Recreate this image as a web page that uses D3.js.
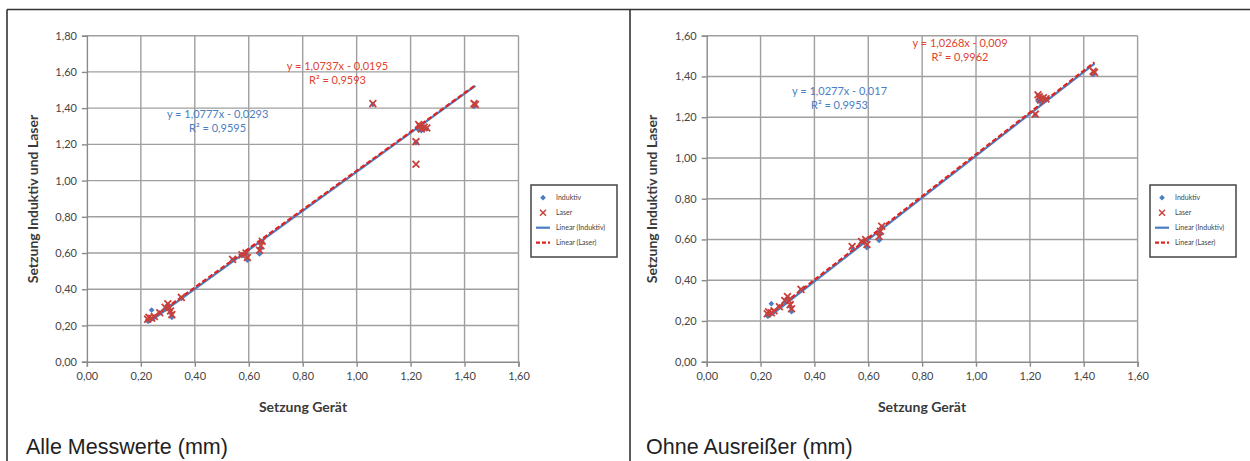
<!DOCTYPE html>
<html>
<head>
<meta charset="utf-8">
<script src="https://cdn.jsdelivr.net/npm/d3@7"></script>
<style>
  html, body { margin: 0; padding: 0; background: #fff; }
  svg { display: block; }
  .tick text { font-family: Lato, "Open Sans", sans-serif; font-size: 11px; fill: #454545; }
</style>
</head>
<body>
<svg id="chart" width="1250" height="461"></svg>
<script>
// Setzung Gerät (x) und die gemessenen Setzungen Induktiv / Laser (mm)
const geraet   = [0.225, 0.23, 0.24, 0.25, 0.27, 0.29, 0.30, 0.305, 0.31, 0.315, 0.35,
                  0.54, 0.575, 0.59, 0.595, 0.64, 0.645, 0.65,
                  1.06, 1.22, 1.22, 1.23, 1.235, 1.24, 1.25, 1.26, 1.435, 1.44];
const induktiv = [0.225, 0.23, 0.285, 0.245, 0.27, 0.29, 0.30, 0.31, 0.27, 0.245, 0.35,
                  0.56, 0.585, 0.595, 0.56, 0.595, 0.625, 0.66,
                  1.42, 1.21, 1.21, 1.28, 1.30, 1.275, 1.29, 1.285, 1.41, 1.415];
const laser    = [0.235, 0.245, 0.24, 0.25, 0.27, 0.30, 0.32, 0.30, 0.28, 0.26, 0.355,
                  0.565, 0.59, 0.60, 0.575, 0.615, 0.64, 0.665,
                  1.425, 1.215, 1.09, 1.31, 1.30, 1.285, 1.295, 1.29, 1.425, 1.42];
// Indizes der Ausreißer, die im zweiten Diagramm fehlen
const ausreisser = [18, 20];

// Trendlinien: [Steigung, Achsenabschnitt, R²]
const trendAlle = { induktiv: [1.0777, -0.0293, 0.9595], laser: [1.0737, -0.0195, 0.9593] };
const trendOhne = { induktiv: [1.0277, -0.017, 0.9953], laser: [1.0268, -0.009, 0.9962] };

const xTicks = [0, 0.2, 0.4, 0.6, 0.8, 1.0, 1.2, 1.4, 1.6];
const yTicksAlle = [0, 0.2, 0.4, 0.6, 0.8, 1.0, 1.2, 1.4, 1.6, 1.8];
const yTicksOhne = [0, 0.2, 0.4, 0.6, 0.8, 1.0, 1.2, 1.4, 1.6];

const legendLabels = ["Induktiv", "Laser", "Linear (Induktiv)", "Linear (Laser)"];

const BLUE = "#4a7ec2", RED = "#c9403b", RED_LINE = "#e0231e";
const EQ_BLUE = "#4a7ec2", EQ_RED = "#e0432f";

const decimal = v => d3.format(".2f")(v).replace(".", ",");
const eqText = (m, b) => {
  const fm = d3.format(".4~f"), sign = b < 0 ? " - " : " + ";
  return "y = " + fm(m).replace(".", ",") + "x" + sign + fm(Math.abs(b)).replace(".", ",");
};

const rowsAll = geraet.map((g, i) => ({ g, ind: induktiv[i], las: laser[i] }));
const rowsOhne = rowsAll.filter((d, i) => !ausreisser.includes(i));

const svg = d3.select("#chart");

// Rahmen der beiden Felder
const frame = svg.append("g").attr("stroke", "#333").attr("stroke-width", 1.6).attr("fill", "none");
frame.append("line").attr("x1", 7).attr("x2", 1250).attr("y1", 9.5).attr("y2", 9.5);
frame.append("line").attr("x1", 7).attr("x2", 7).attr("y1", 9.5).attr("y2", 461);
frame.append("line").attr("x1", 630).attr("x2", 630).attr("y1", 9.5).attr("y2", 461);

const panels = [
  { caption: "Alle Messwerte (mm)", rows: rowsAll, trend: trendAlle, yTicks: yTicksAlle,
    left: 86.9, right: 518.5, top: 35.7, bottom: 361.7,
    eq: { laser: [337.5, 70], induktiv: [217.6, 118] },
    legend: [531, 185], yTitleX: 33, xTitleX: 303, captionX: 26 },
  { caption: "Ohne Ausreißer (mm)", rows: rowsOhne, trend: trendOhne, yTicks: yTicksOhne,
    left: 706.7, right: 1137.6, top: 35.7, bottom: 361.7,
    eq: { laser: [960, 47], induktiv: [839.5, 95] },
    legend: [1150, 185], yTitleX: 652, xTitleX: 922, captionX: 646 }
];

// Raute als um 45° gedrehtes Quadrat
const diamond = d3.symbol().type(d3.symbolSquare).size(16);

panels.forEach(p => {
  const x = d3.scaleLinear().domain([0, 1.6]).range([p.left, p.right]);
  const y = d3.scaleLinear().domain([0, d3.max(p.yTicks)]).range([p.bottom, p.top]);
  const g = svg.append("g");

  // Gitternetz
  const grid = g.append("g").attr("stroke", "#9f9f9f").attr("stroke-width", 1.4);
  grid.selectAll("line.v").data(xTicks.slice(1)).join("line")
    .attr("x1", d => x(d)).attr("x2", d => x(d)).attr("y1", p.top).attr("y2", p.bottom);
  grid.selectAll("line.h").data(p.yTicks.slice(1)).join("line")
    .attr("x1", p.left).attr("x2", p.right).attr("y1", d => y(d)).attr("y2", d => y(d));

  // Achsen
  const xAxis = g.append("g").attr("transform", `translate(0,${p.bottom})`)
    .call(d3.axisBottom(x).tickValues(xTicks).tickSize(5).tickPadding(6).tickFormat(decimal));
  const yAxis = g.append("g").attr("transform", `translate(${p.left},0)`)
    .call(d3.axisLeft(y).tickValues(p.yTicks).tickSize(5).tickPadding(5).tickFormat(decimal));
  [xAxis, yAxis].forEach(a => {
    a.select(".domain").attr("stroke", "#8a8a8a").attr("stroke-width", 1.4);
    a.selectAll(".tick line").attr("stroke", "#8a8a8a").attr("stroke-width", 1.4);
  });

  // Trendlinien über den Bereich der Messwerte
  const lineFor = coef => d3.extent(p.rows, d => d.g).map(v => [x(v), y(coef[0] * v + coef[1])]);
  const line = d3.line();
  g.append("path").attr("d", line(lineFor(p.trend.induktiv)))
    .attr("stroke", BLUE).attr("stroke-width", 2.2).attr("fill", "none");
  g.append("path").attr("d", line(lineFor(p.trend.laser)))
    .attr("stroke", RED_LINE).attr("stroke-width", 2.2).attr("stroke-dasharray", "5,2.5").attr("fill", "none");

  // Messpunkte Induktiv (Rauten)
  g.append("g").selectAll("path").data(p.rows).join("path")
    .attr("d", diamond).attr("fill", BLUE)
    .attr("transform", d => `translate(${x(d.g)},${y(d.ind)}) rotate(45)`);

  // Messpunkte Laser (Kreuze)
  const cross = g.append("g").attr("stroke", RED).attr("stroke-width", 1.8);
  p.rows.forEach(d => {
    const cx = x(d.g), cy = y(d.las), r = 3.4;
    cross.append("line").attr("x1", cx - r).attr("x2", cx + r).attr("y1", cy - r).attr("y2", cy + r);
    cross.append("line").attr("x1", cx - r).attr("x2", cx + r).attr("y1", cy + r).attr("y2", cy - r);
  });

  // Gleichungen der Trendlinien
  const eq = (coef, pos, color) => {
    const t = g.append("g").attr("fill", color)
      .style("font-family", "Lato, 'Open Sans', sans-serif").style("font-size", "11px")
      .attr("text-anchor", "middle");
    t.append("text").attr("x", pos[0]).attr("y", pos[1]).text(eqText(coef[0], coef[1]));
    t.append("text").attr("x", pos[0]).attr("y", pos[1] + 14)
      .text("R² = " + d3.format(".4f")(coef[2]).replace(".", ","));
  };
  eq(p.trend.laser, p.eq.laser, EQ_RED);
  eq(p.trend.induktiv, p.eq.induktiv, EQ_BLUE);

  // Achsentitel
  g.append("text").attr("x", p.xTitleX).attr("y", 412).attr("text-anchor", "middle")
    .style("font-family", "Lato, sans-serif").style("font-size", "14px").style("font-weight", "bold")
    .attr("fill", "#3a3a3a").text("Setzung Gerät");
  g.append("text").attr("transform", `translate(${p.yTitleX},199) rotate(-90)`)
    .attr("dy", "0.35em").attr("text-anchor", "middle")
    .style("font-family", "Lato, sans-serif").style("font-size", "14px").style("font-weight", "bold")
    .attr("fill", "#3a3a3a").text("Setzung Induktiv und Laser");

  // Legende
  const [lx, ly] = p.legend;
  const leg = g.append("g").attr("transform", `translate(${lx},${ly})`);
  leg.append("rect").attr("width", 86).attr("height", 72).attr("fill", "#fff")
    .attr("stroke", "#444").attr("stroke-width", 1.5);
  legendLabels.forEach((lab, i) => {
    const ry = 12.7 + i * 15;
    const row = leg.append("g").attr("transform", `translate(0,${ry})`);
    if (i === 0) row.append("path").attr("d", diamond).attr("fill", BLUE).attr("transform", "translate(12,0) rotate(45)");
    if (i === 1) {
      row.append("line").attr("x1", 9).attr("x2", 15).attr("y1", -3).attr("y2", 3).attr("stroke", RED).attr("stroke-width", 1.4);
      row.append("line").attr("x1", 9).attr("x2", 15).attr("y1", 3).attr("y2", -3).attr("stroke", RED).attr("stroke-width", 1.4);
    }
    if (i === 2) row.append("line").attr("x1", 5).attr("x2", 19).attr("stroke", BLUE).attr("stroke-width", 2.2);
    if (i === 3) row.append("line").attr("x1", 5).attr("x2", 19).attr("stroke", RED_LINE).attr("stroke-width", 2.2).attr("stroke-dasharray", "4,2");
    row.append("text").attr("x", 25).attr("dy", "0.35em")
      .style("font-family", "Lato, sans-serif").style("font-size", "7px").attr("fill", "#444").text(lab);
  });

  // Bildunterschrift
  svg.append("text").attr("x", p.captionX).attr("y", 454)
    .style("font-family", "'Liberation Sans', Arial, sans-serif").style("font-size", "21.5px")
    .attr("fill", "#222").text(p.caption);
});
</script>
</body>
</html>
